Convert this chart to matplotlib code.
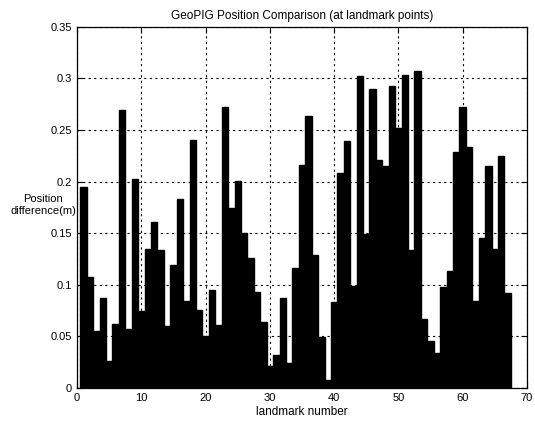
import matplotlib
matplotlib.use("Agg")
import matplotlib.pyplot as plt
import numpy as np

# landmark numbers and position differences (m)
landmarks = list(range(1, 68))
diffs = [
    0.195, 0.108, 0.055, 0.087, 0.026, 0.062, 0.269, 0.057, 0.203, 0.075,
    0.135, 0.161, 0.134, 0.060, 0.119, 0.183, 0.084, 0.240, 0.076, 0.050,
    0.095, 0.061, 0.272, 0.174, 0.201, 0.150, 0.126, 0.093, 0.064, 0.021,
    0.032, 0.087, 0.024, 0.116, 0.216, 0.264, 0.129, 0.049, 0.008, 0.083,
    0.208, 0.239, 0.099, 0.302, 0.149, 0.290, 0.221, 0.215, 0.293, 0.252,
    0.303, 0.134, 0.307, 0.067, 0.046, 0.034, 0.098, 0.113, 0.229, 0.272,
    0.234, 0.084, 0.145, 0.215, 0.135, 0.225, 0.092,
]

x_ticks = [0, 10, 20, 30, 40, 50, 60, 70]
y_ticks = [0, 0.05, 0.1, 0.15, 0.2, 0.25, 0.3, 0.35]
y_tick_labels = ['0', '0.05', '0.1', '0.15', '0.2', '0.25', '0.3', '0.35']

plt.rc('font', family='Liberation Sans', size=8)

fig = plt.figure(figsize=(5.35, 4.34), dpi=100)
ax = fig.add_axes([0.144, 0.106, 0.841, 0.832])

ax.bar(landmarks, diffs, width=1.0, color='black', edgecolor='black', zorder=2)

ax.set_xlim(0, 70)
ax.set_ylim(0, 0.35)
ax.set_xticks(x_ticks)
ax.set_yticks(y_ticks)
ax.set_yticklabels(y_tick_labels)
ax.tick_params(direction='in', length=4, width=0.8, colors='black',
               top=True, right=True)
ax.grid(True, linestyle=(0, (2, 3)), color='black', linewidth=0.8, zorder=1)
ax.set_axisbelow(True)
for s in ax.spines.values():
    s.set_linewidth(0.9)

ax.set_title('GeoPIG Position Comparison (at landmark points)', fontsize=8.5, pad=6)
ax.set_xlabel('landmark number', fontsize=8.5, labelpad=2)
ax.set_ylabel('Position\ndifference(m)', fontsize=8, rotation=0,
              ha='center', va='center')
ax.yaxis.set_label_coords(-0.075, 0.507)

fig.savefig('out.png', dpi=100)
